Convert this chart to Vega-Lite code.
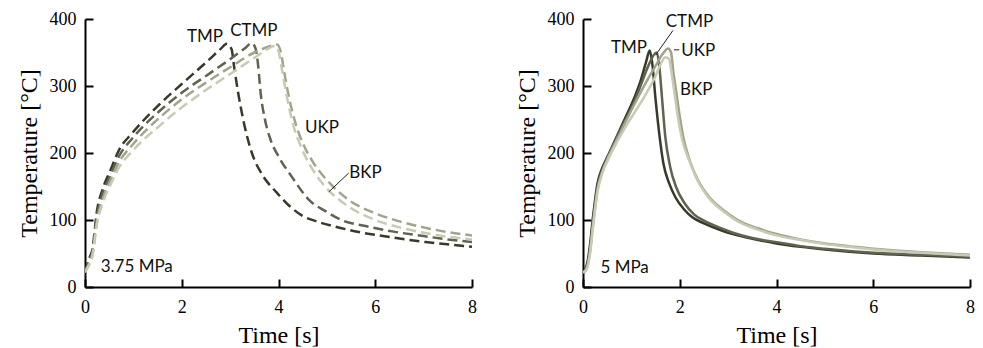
{
  "$schema": "https://vega.github.io/schema/vega-lite/v6.json",
  "padding": {"left": 17, "top": 10, "right": 0, "bottom": 0},
  "spacing": 38,
  "background": "white",
  "config": {
    "view": {"stroke": null},
    "axis": {
      "grid": false,
      "domainColor": "black",
      "domainWidth": 2,
      "tickColor": "black",
      "tickWidth": 2,
      "tickSize": -8,
      "labelFont": "Liberation Serif",
      "labelFontSize": 18,
      "labelColor": "black",
      "labelFlush": false,
      "titleFont": "Liberation Serif",
      "titleFontSize": 24,
      "titleFontWeight": "normal",
      "titleColor": "black"
    },
    "axisX": {"labelPadding": 19, "titlePadding": 7},
    "axisY": {"labelPadding": 17, "titlePadding": 8}
  },
  "datasets": {
    "left": [
      {"s":"TMP","t":0,"T":22},{"s":"TMP","t":0.1,"T":45},{"s":"TMP","t":0.15,"T":55},{"s":"TMP","t":0.25,"T":115},{"s":"TMP","t":0.36,"T":145},{"s":"TMP","t":0.53,"T":175},{"s":"TMP","t":0.7,"T":204},{"s":"TMP","t":0.98,"T":230},{"s":"TMP","t":1.53,"T":272},{"s":"TMP","t":2.0,"T":303},{"s":"TMP","t":2.5,"T":335},{"s":"TMP","t":2.8,"T":355},{"s":"TMP","t":2.93,"T":363},{"s":"TMP","t":3.03,"T":355},{"s":"TMP","t":3.08,"T":330},{"s":"TMP","t":3.18,"T":284},{"s":"TMP","t":3.3,"T":240},{"s":"TMP","t":3.45,"T":200},{"s":"TMP","t":3.66,"T":168},{"s":"TMP","t":3.95,"T":142},{"s":"TMP","t":4.21,"T":122},{"s":"TMP","t":4.48,"T":107},{"s":"TMP","t":4.83,"T":97},{"s":"TMP","t":5.18,"T":90},{"s":"TMP","t":5.66,"T":82},{"s":"TMP","t":6.35,"T":74},{"s":"TMP","t":7.04,"T":67},{"s":"TMP","t":7.73,"T":62},{"s":"TMP","t":8.0,"T":60},
      {"s":"CTMP","t":0,"T":22},{"s":"CTMP","t":0.1,"T":42},{"s":"CTMP","t":0.15,"T":52},{"s":"CTMP","t":0.25,"T":108},{"s":"CTMP","t":0.36,"T":138},{"s":"CTMP","t":0.53,"T":168},{"s":"CTMP","t":0.7,"T":195},{"s":"CTMP","t":0.98,"T":222},{"s":"CTMP","t":1.53,"T":262},{"s":"CTMP","t":2.0,"T":290},{"s":"CTMP","t":2.5,"T":315},{"s":"CTMP","t":3.0,"T":340},{"s":"CTMP","t":3.3,"T":356},{"s":"CTMP","t":3.45,"T":364},{"s":"CTMP","t":3.53,"T":355},{"s":"CTMP","t":3.58,"T":330},{"s":"CTMP","t":3.63,"T":290},{"s":"CTMP","t":3.72,"T":250},{"s":"CTMP","t":3.84,"T":219},{"s":"CTMP","t":4.0,"T":195},{"s":"CTMP","t":4.28,"T":164},{"s":"CTMP","t":4.63,"T":130},{"s":"CTMP","t":5.0,"T":112},{"s":"CTMP","t":5.3,"T":100},{"s":"CTMP","t":5.8,"T":91},{"s":"CTMP","t":6.35,"T":83},{"s":"CTMP","t":7.0,"T":76},{"s":"CTMP","t":7.5,"T":71},{"s":"CTMP","t":8.0,"T":67},
      {"s":"UKP","t":0,"T":22},{"s":"UKP","t":0.1,"T":38},{"s":"UKP","t":0.15,"T":48},{"s":"UKP","t":0.25,"T":100},{"s":"UKP","t":0.36,"T":130},{"s":"UKP","t":0.53,"T":160},{"s":"UKP","t":0.7,"T":186},{"s":"UKP","t":0.98,"T":212},{"s":"UKP","t":1.53,"T":252},{"s":"UKP","t":2.0,"T":280},{"s":"UKP","t":2.5,"T":305},{"s":"UKP","t":3.0,"T":328},{"s":"UKP","t":3.5,"T":350},{"s":"UKP","t":3.85,"T":360},{"s":"UKP","t":3.97,"T":362},{"s":"UKP","t":4.05,"T":350},{"s":"UKP","t":4.12,"T":320},{"s":"UKP","t":4.22,"T":282},{"s":"UKP","t":4.38,"T":238},{"s":"UKP","t":4.52,"T":212},{"s":"UKP","t":4.7,"T":188},{"s":"UKP","t":4.9,"T":168},{"s":"UKP","t":5.1,"T":152},{"s":"UKP","t":5.45,"T":130},{"s":"UKP","t":6.0,"T":110},{"s":"UKP","t":6.5,"T":98},{"s":"UKP","t":7.0,"T":89},{"s":"UKP","t":7.5,"T":82},{"s":"UKP","t":8.0,"T":77},
      {"s":"BKP","t":0,"T":22},{"s":"BKP","t":0.1,"T":35},{"s":"BKP","t":0.15,"T":45},{"s":"BKP","t":0.25,"T":95},{"s":"BKP","t":0.36,"T":124},{"s":"BKP","t":0.53,"T":153},{"s":"BKP","t":0.7,"T":178},{"s":"BKP","t":0.98,"T":203},{"s":"BKP","t":1.53,"T":240},{"s":"BKP","t":2.0,"T":268},{"s":"BKP","t":2.5,"T":294},{"s":"BKP","t":3.0,"T":318},{"s":"BKP","t":3.5,"T":342},{"s":"BKP","t":3.8,"T":356},{"s":"BKP","t":3.92,"T":360},{"s":"BKP","t":4.0,"T":352},{"s":"BKP","t":4.07,"T":325},{"s":"BKP","t":4.17,"T":285},{"s":"BKP","t":4.32,"T":238},{"s":"BKP","t":4.46,"T":210},{"s":"BKP","t":4.65,"T":182},{"s":"BKP","t":4.85,"T":160},{"s":"BKP","t":5.04,"T":144},{"s":"BKP","t":5.45,"T":120},{"s":"BKP","t":6.0,"T":100},{"s":"BKP","t":6.5,"T":89},{"s":"BKP","t":7.0,"T":81},{"s":"BKP","t":7.5,"T":75},{"s":"BKP","t":8.0,"T":71}
    ],
    "right": [
      {"s":"TMP","t":0,"T":22},{"s":"TMP","t":0.05,"T":27},{"s":"TMP","t":0.1,"T":40},{"s":"TMP","t":0.15,"T":66},{"s":"TMP","t":0.2,"T":100},{"s":"TMP","t":0.3,"T":155},{"s":"TMP","t":0.4,"T":178},{"s":"TMP","t":0.53,"T":198},{"s":"TMP","t":0.7,"T":225},{"s":"TMP","t":0.87,"T":252},{"s":"TMP","t":1.08,"T":286},{"s":"TMP","t":1.2,"T":310},{"s":"TMP","t":1.3,"T":335},{"s":"TMP","t":1.38,"T":353},{"s":"TMP","t":1.43,"T":335},{"s":"TMP","t":1.5,"T":280},{"s":"TMP","t":1.6,"T":215},{"s":"TMP","t":1.66,"T":185},{"s":"TMP","t":1.78,"T":155},{"s":"TMP","t":1.91,"T":134},{"s":"TMP","t":2.1,"T":115},{"s":"TMP","t":2.26,"T":104},{"s":"TMP","t":2.5,"T":95},{"s":"TMP","t":2.88,"T":84},{"s":"TMP","t":3.1,"T":79},{"s":"TMP","t":3.5,"T":72},{"s":"TMP","t":4.0,"T":65},{"s":"TMP","t":4.5,"T":60},{"s":"TMP","t":5.0,"T":56},{"s":"TMP","t":6.0,"T":50},{"s":"TMP","t":7.0,"T":47},{"s":"TMP","t":8.0,"T":44},
      {"s":"CTMP","t":0,"T":22},{"s":"CTMP","t":0.05,"T":25},{"s":"CTMP","t":0.1,"T":36},{"s":"CTMP","t":0.15,"T":60},{"s":"CTMP","t":0.2,"T":95},{"s":"CTMP","t":0.3,"T":150},{"s":"CTMP","t":0.4,"T":175},{"s":"CTMP","t":0.53,"T":197},{"s":"CTMP","t":0.7,"T":223},{"s":"CTMP","t":0.87,"T":248},{"s":"CTMP","t":1.08,"T":280},{"s":"CTMP","t":1.2,"T":302},{"s":"CTMP","t":1.35,"T":330},{"s":"CTMP","t":1.52,"T":350},{"s":"CTMP","t":1.57,"T":335},{"s":"CTMP","t":1.63,"T":285},{"s":"CTMP","t":1.7,"T":225},{"s":"CTMP","t":1.8,"T":180},{"s":"CTMP","t":1.92,"T":150},{"s":"CTMP","t":2.1,"T":125},{"s":"CTMP","t":2.3,"T":108},{"s":"CTMP","t":2.5,"T":99},{"s":"CTMP","t":2.88,"T":87},{"s":"CTMP","t":3.1,"T":81},{"s":"CTMP","t":3.5,"T":73},{"s":"CTMP","t":4.0,"T":67},{"s":"CTMP","t":4.5,"T":61},{"s":"CTMP","t":5.0,"T":57},{"s":"CTMP","t":6.0,"T":51},{"s":"CTMP","t":7.0,"T":48},{"s":"CTMP","t":8.0,"T":45},
      {"s":"UKP","t":0,"T":22},{"s":"UKP","t":0.05,"T":24},{"s":"UKP","t":0.1,"T":33},{"s":"UKP","t":0.15,"T":55},{"s":"UKP","t":0.2,"T":88},{"s":"UKP","t":0.3,"T":145},{"s":"UKP","t":0.4,"T":172},{"s":"UKP","t":0.53,"T":195},{"s":"UKP","t":0.7,"T":220},{"s":"UKP","t":0.87,"T":245},{"s":"UKP","t":1.08,"T":275},{"s":"UKP","t":1.3,"T":305},{"s":"UKP","t":1.5,"T":330},{"s":"UKP","t":1.65,"T":348},{"s":"UKP","t":1.76,"T":356},{"s":"UKP","t":1.82,"T":350},{"s":"UKP","t":1.87,"T":320},{"s":"UKP","t":1.93,"T":290},{"s":"UKP","t":2.0,"T":255},{"s":"UKP","t":2.07,"T":225},{"s":"UKP","t":2.2,"T":190},{"s":"UKP","t":2.36,"T":162},{"s":"UKP","t":2.6,"T":135},{"s":"UKP","t":2.9,"T":115},{"s":"UKP","t":3.2,"T":100},{"s":"UKP","t":3.6,"T":88},{"s":"UKP","t":4.0,"T":79},{"s":"UKP","t":4.5,"T":71},{"s":"UKP","t":5.0,"T":65},{"s":"UKP","t":5.5,"T":61},{"s":"UKP","t":6.0,"T":57},{"s":"UKP","t":7.0,"T":52},{"s":"UKP","t":8.0,"T":48},
      {"s":"BKP","t":0,"T":22},{"s":"BKP","t":0.05,"T":24},{"s":"BKP","t":0.1,"T":32},{"s":"BKP","t":0.15,"T":52},{"s":"BKP","t":0.2,"T":85},{"s":"BKP","t":0.3,"T":142},{"s":"BKP","t":0.4,"T":170},{"s":"BKP","t":0.53,"T":192},{"s":"BKP","t":0.7,"T":216},{"s":"BKP","t":0.87,"T":238},{"s":"BKP","t":1.08,"T":262},{"s":"BKP","t":1.3,"T":288},{"s":"BKP","t":1.5,"T":315},{"s":"BKP","t":1.6,"T":332},{"s":"BKP","t":1.7,"T":343},{"s":"BKP","t":1.78,"T":340},{"s":"BKP","t":1.83,"T":320},{"s":"BKP","t":1.9,"T":285},{"s":"BKP","t":1.97,"T":250},{"s":"BKP","t":2.05,"T":220},{"s":"BKP","t":2.2,"T":188},{"s":"BKP","t":2.36,"T":160},{"s":"BKP","t":2.6,"T":133},{"s":"BKP","t":2.9,"T":113},{"s":"BKP","t":3.2,"T":98},{"s":"BKP","t":3.6,"T":86},{"s":"BKP","t":4.0,"T":77},{"s":"BKP","t":4.5,"T":70},{"s":"BKP","t":5.0,"T":64},{"s":"BKP","t":5.5,"T":60},{"s":"BKP","t":6.0,"T":56},{"s":"BKP","t":7.0,"T":51},{"s":"BKP","t":8.0,"T":47}
    ],
    "leftText": [
      {"label":"TMP","t":2.48,"T":366},
      {"label":"CTMP","t":3.49,"T":375},
      {"label":"UKP","t":4.9,"T":230},
      {"label":"BKP","t":5.8,"T":163},
      {"label":"3.75 MPa","t":1.07,"T":22}
    ],
    "rightText": [
      {"label":"TMP","t":0.95,"T":349},
      {"label":"CTMP","t":2.2,"T":388},
      {"label":"UKP","t":2.38,"T":345},
      {"label":"BKP","t":2.34,"T":287},
      {"label":"5 MPa","t":0.86,"T":21}
    ],
    "leftLead": [
      {"t":5.45,"T":170,"t2":5.04,"T2":142}
    ],
    "rightLead": [
      {"t":1.86,"T":383,"t2":1.5,"T2":346},
      {"t":1.88,"T":354,"t2":1.99,"T2":354}
    ]
  },
  "hconcat": [
    {
      "width": 387,
      "height": 268,
      "layer": [
        {
          "data": {"name": "left"},
          "mark": {"type": "line", "strokeWidth": 2.5, "strokeDash": [10, 5], "interpolate": "monotone", "clip": true},
          "encoding": {
            "x": {"field": "t", "type": "quantitative", "scale": {"domain": [0, 8], "nice": false}, "axis": {"title": "Time [s]", "values": [0, 2, 4, 6, 8]}},
            "y": {"field": "T", "type": "quantitative", "scale": {"domain": [0, 400], "nice": false}, "axis": {"title": "Temperature [°C]", "values": [0, 100, 200, 300, 400]}},
            "color": {"field": "s", "type": "nominal", "scale": {"domain": ["TMP", "CTMP", "UKP", "BKP"], "range": ["#363a29", "#5f6350", "#a2a38c", "#c9cab4"]}, "legend": null},
            "detail": {"field": "s"}
          }
        },
        {
          "data": {"name": "leftLead"},
          "mark": {"type": "rule", "color": "#222222", "strokeWidth": 1},
          "encoding": {
            "x": {"field": "t", "type": "quantitative"},
            "y": {"field": "T", "type": "quantitative"},
            "x2": {"field": "t2"},
            "y2": {"field": "T2"}
          }
        },
        {
          "data": {"name": "leftText"},
          "mark": {"type": "text", "font": "Lato", "fontSize": 17, "color": "#111111", "align": "center", "baseline": "alphabetic"},
          "encoding": {
            "x": {"field": "t", "type": "quantitative"},
            "y": {"field": "T", "type": "quantitative"},
            "text": {"field": "label"}
          }
        }
      ]
    },
    {
      "width": 387,
      "height": 268,
      "layer": [
        {
          "data": {"name": "right"},
          "mark": {"type": "line", "strokeWidth": 2.5, "interpolate": "monotone", "clip": true},
          "encoding": {
            "x": {"field": "t", "type": "quantitative", "scale": {"domain": [0, 8], "nice": false}, "axis": {"title": "Time [s]", "values": [0, 2, 4, 6, 8]}},
            "y": {"field": "T", "type": "quantitative", "scale": {"domain": [0, 400], "nice": false}, "axis": {"title": "Temperature [°C]", "values": [0, 100, 200, 300, 400]}},
            "color": {"field": "s", "type": "nominal", "scale": {"domain": ["TMP", "CTMP", "UKP", "BKP"], "range": ["#363a29", "#5f6350", "#a2a38c", "#c9cab4"]}, "legend": null},
            "detail": {"field": "s"}
          }
        },
        {
          "data": {"name": "rightLead"},
          "mark": {"type": "rule", "color": "#222222", "strokeWidth": 1},
          "encoding": {
            "x": {"field": "t", "type": "quantitative"},
            "y": {"field": "T", "type": "quantitative"},
            "x2": {"field": "t2"},
            "y2": {"field": "T2"}
          }
        },
        {
          "data": {"name": "rightText"},
          "mark": {"type": "text", "font": "Lato", "fontSize": 17, "color": "#111111", "align": "center", "baseline": "alphabetic"},
          "encoding": {
            "x": {"field": "t", "type": "quantitative"},
            "y": {"field": "T", "type": "quantitative"},
            "text": {"field": "label"}
          }
        }
      ]
    }
  ]
}
